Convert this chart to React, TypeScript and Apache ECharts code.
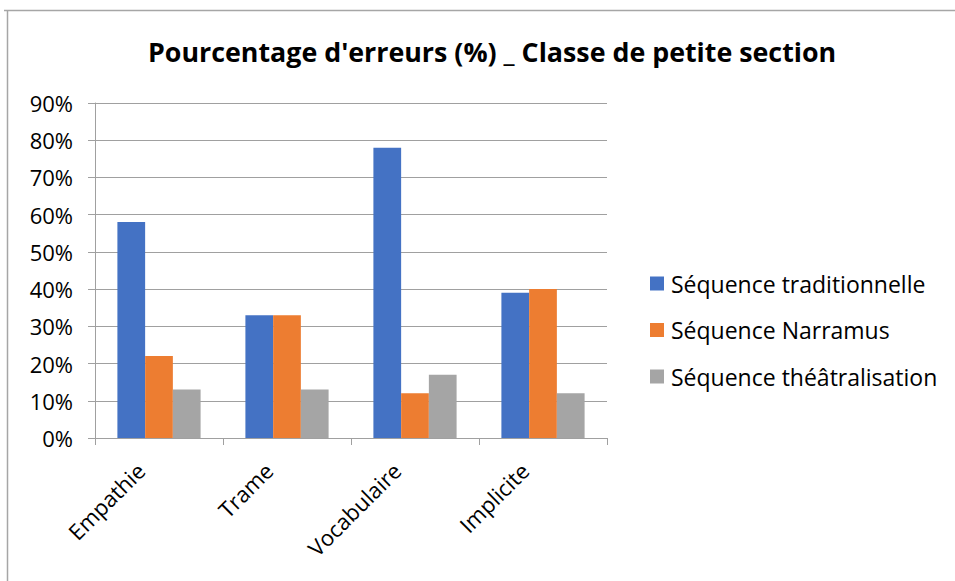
import React, { useEffect, useRef } from "react";
import * as echarts from "echarts";

const categories = ["Empathie", "Trame", "Vocabulaire", "Implicite"];
const seriesNames = ["Séquence traditionnelle", "Séquence Narramus", "Séquence théâtralisation"];
const traditionnelle = [58, 33, 78, 39];
const narramus = [22, 33, 12, 40];
const theatralisation = [13, 13, 17, 12];
const colors = ["#4472C4", "#ED7D31", "#A5A5A5"];
const titleText = "Pourcentage d'erreurs (%) _ Classe de petite section";

export default function App() {
  const ref = useRef<HTMLDivElement>(null);
  useEffect(() => {
    if (!ref.current) return;
    const chart = echarts.init(ref.current, null, { renderer: "svg" });
    const font = "'Open Sans', sans-serif";
    chart.setOption({
      animation: false,
      backgroundColor: "#ffffff",
      title: {
        text: titleText,
        left: 143,
        top: 33,
        textStyle: { fontFamily: font, fontSize: 26.8, fontWeight: "bold", color: "#000" },
      },
      graphic: [
        {
          type: "line",
          shape: { x1: 4, y1: 10.5, x2: 955, y2: 10.5 },
          style: { stroke: "#a6a6a6", lineWidth: 1.5 },
          silent: true,
        },
        {
          type: "line",
          shape: { x1: 7.5, y1: 10, x2: 7.5, y2: 581 },
          style: { stroke: "#a6a6a6", lineWidth: 1.5 },
          silent: true,
        },
      ],
      legend: {
        orient: "vertical",
        left: 645,
        top: 267,
        itemWidth: 14,
        itemHeight: 14,
        itemGap: 23.5,
        icon: "rect",
        textStyle: { fontFamily: font, fontSize: 23, color: "#000", padding: [0, 0, 0, 2] },
        data: seriesNames,
      },
      grid: { left: 95, right: 348, top: 103, bottom: 143, containLabel: false },
      xAxis: {
        type: "category",
        data: categories,
        axisLine: { show: true, lineStyle: { color: "#a0a0a0" } },
        axisTick: { show: true, length: 7, alignWithLabel: false, lineStyle: { color: "#a0a0a0" } },
        axisLabel: { rotate: 45, fontFamily: font, fontSize: 22, color: "#000", margin: 10, padding: [0, 26, 0, 0] },
      },
      yAxis: {
        type: "value",
        min: 0,
        max: 90,
        interval: 10,
        axisLine: { show: true, lineStyle: { color: "#a0a0a0" } },
        axisTick: { show: true, length: 7, lineStyle: { color: "#a0a0a0" } },
        splitLine: { show: true, lineStyle: { color: "#a0a0a0" } },
        axisLabel: { formatter: "{value}%", fontFamily: font, fontSize: 22, color: "#000", margin: 22 },
      },
      series: [
        { name: seriesNames[0], type: "bar", data: traditionnelle, itemStyle: { color: colors[0] }, barGap: "0%", barCategoryGap: "35%" },
        { name: seriesNames[1], type: "bar", data: narramus, itemStyle: { color: colors[1] }, barGap: "0%", barCategoryGap: "35%" },
        { name: seriesNames[2], type: "bar", data: theatralisation, itemStyle: { color: colors[2] }, barGap: "0%", barCategoryGap: "35%" },
      ],
    });
    return () => chart.dispose();
  }, []);
  return (
    <div style={{ position: "absolute", left: 0, top: 0, width: 955, height: 581 }}>
      <div ref={ref} style={{ width: 955, height: 581 }} />
    </div>
  );
}
